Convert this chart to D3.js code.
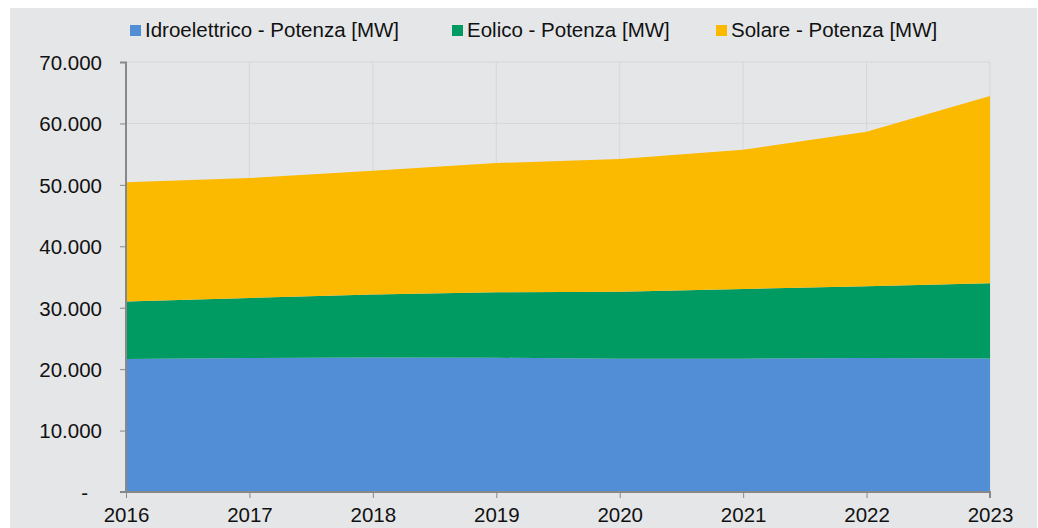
<!DOCTYPE html>
<html><head><meta charset="utf-8">
<script src="https://cdn.jsdelivr.net/npm/d3@7"></script>
<style>body{margin:0;background:#fff}svg{display:block}</style>
</head><body>
<svg id="c" width="1038" height="528"></svg>
<script>
const years = [2016, 2017, 2018, 2019, 2020, 2021, 2022, 2023];
const idro = [21650, 21800, 21900, 21850, 21700, 21700, 21800, 21750];
const eolico = [9380, 9800, 10250, 10650, 10900, 11350, 11700, 12250];
const solare = [19400, 19500, 20150, 21050, 21600, 22650, 25150, 30450];
const seriesNames = ["Idroelettrico - Potenza [MW]", "Eolico - Potenza [MW]", "Solare - Potenza [MW]"];
const colors = ["#528ed6", "#009b63", "#fbb900"];
const yTicks = [0, 10000, 20000, 30000, 40000, 50000, 60000, 70000];

const svg = d3.select("#c");
const font = "'Liberation Sans', Arial, sans-serif";
const fs = 20.5;
svg.append("rect").attr("x",10).attr("y",8).attr("width",1027).attr("height",520).attr("fill","#e5e6e8");

const x = d3.scaleLinear().domain([2016,2023]).range([126,990]);
const y = d3.scaleLinear().domain([0,70000]).range([492,62]);

const table = years.map((yr,i)=>({year:yr, a:idro[i], b:eolico[i], c:solare[i]}));
const stack = d3.stack().keys(["a","b","c"])(table);

// grid
svg.append("g").selectAll("line").data(yTicks.slice(1)).join("line")
  .attr("x1",126).attr("x2",990).attr("y1",d=>y(d)).attr("y2",d=>y(d))
  .attr("stroke","#d6d7da").attr("stroke-width",1);
svg.append("g").selectAll("line").data(years.slice(1)).join("line")
  .attr("x1",d=>x(d)).attr("x2",d=>x(d)).attr("y1",62).attr("y2",492)
  .attr("stroke","#d6d7da").attr("stroke-width",1);

const area = d3.area().x(d=>x(d.data.year)).y0(d=>y(d[0])).y1(d=>y(d[1]));
svg.append("g").selectAll("path").data(stack).join("path")
  .attr("d",area).attr("fill",(d,i)=>colors[i]);

// y axis
const yAxis = d3.axisLeft(y).tickValues(yTicks).tickSize(6).tickPadding(18)
  .tickFormat(d=> d===0 ? "-" : d3.format(",")(d).replace(/,/g,"."));
const gy = svg.append("g").attr("transform","translate(126,0)").call(yAxis);
gy.select(".domain").attr("stroke","#888").attr("stroke-width",2).attr("d","M-6,62.5H0V492");
gy.selectAll(".tick line").attr("stroke","#888").attr("stroke-width",1);
gy.selectAll(".tick text").attr("font-family",font).attr("font-size",fs).attr("fill","#111").attr("dy","0.36em");
gy.selectAll(".tick").filter(d=>d===0).select("text").attr("dx",-14);

// x axis
const xAxis = d3.axisBottom(x).tickValues(years).tickSize(6).tickPadding(9).tickFormat(d3.format("d"));
const gx = svg.append("g").attr("transform","translate(0,492)").call(xAxis);
gx.select(".domain").attr("stroke","#888").attr("stroke-width",2).attr("d","M120,0H990V6");
gx.selectAll(".tick line").attr("stroke","#888").attr("stroke-width",1);
gx.selectAll(".tick text").attr("font-family",font).attr("font-size",fs).attr("fill","#111");

// legend
const legX = [130, 452, 716];
const lg = svg.append("g");
seriesNames.forEach((n,i)=>{
  lg.append("rect").attr("x",legX[i]).attr("y",25).attr("width",11).attr("height",11).attr("fill",colors[i]);
  lg.append("text").attr("x",legX[i]+15).attr("y",37).attr("font-family",font).attr("font-size",fs)
    .attr("fill","#111").text(n);
});
</script>
</body></html>
